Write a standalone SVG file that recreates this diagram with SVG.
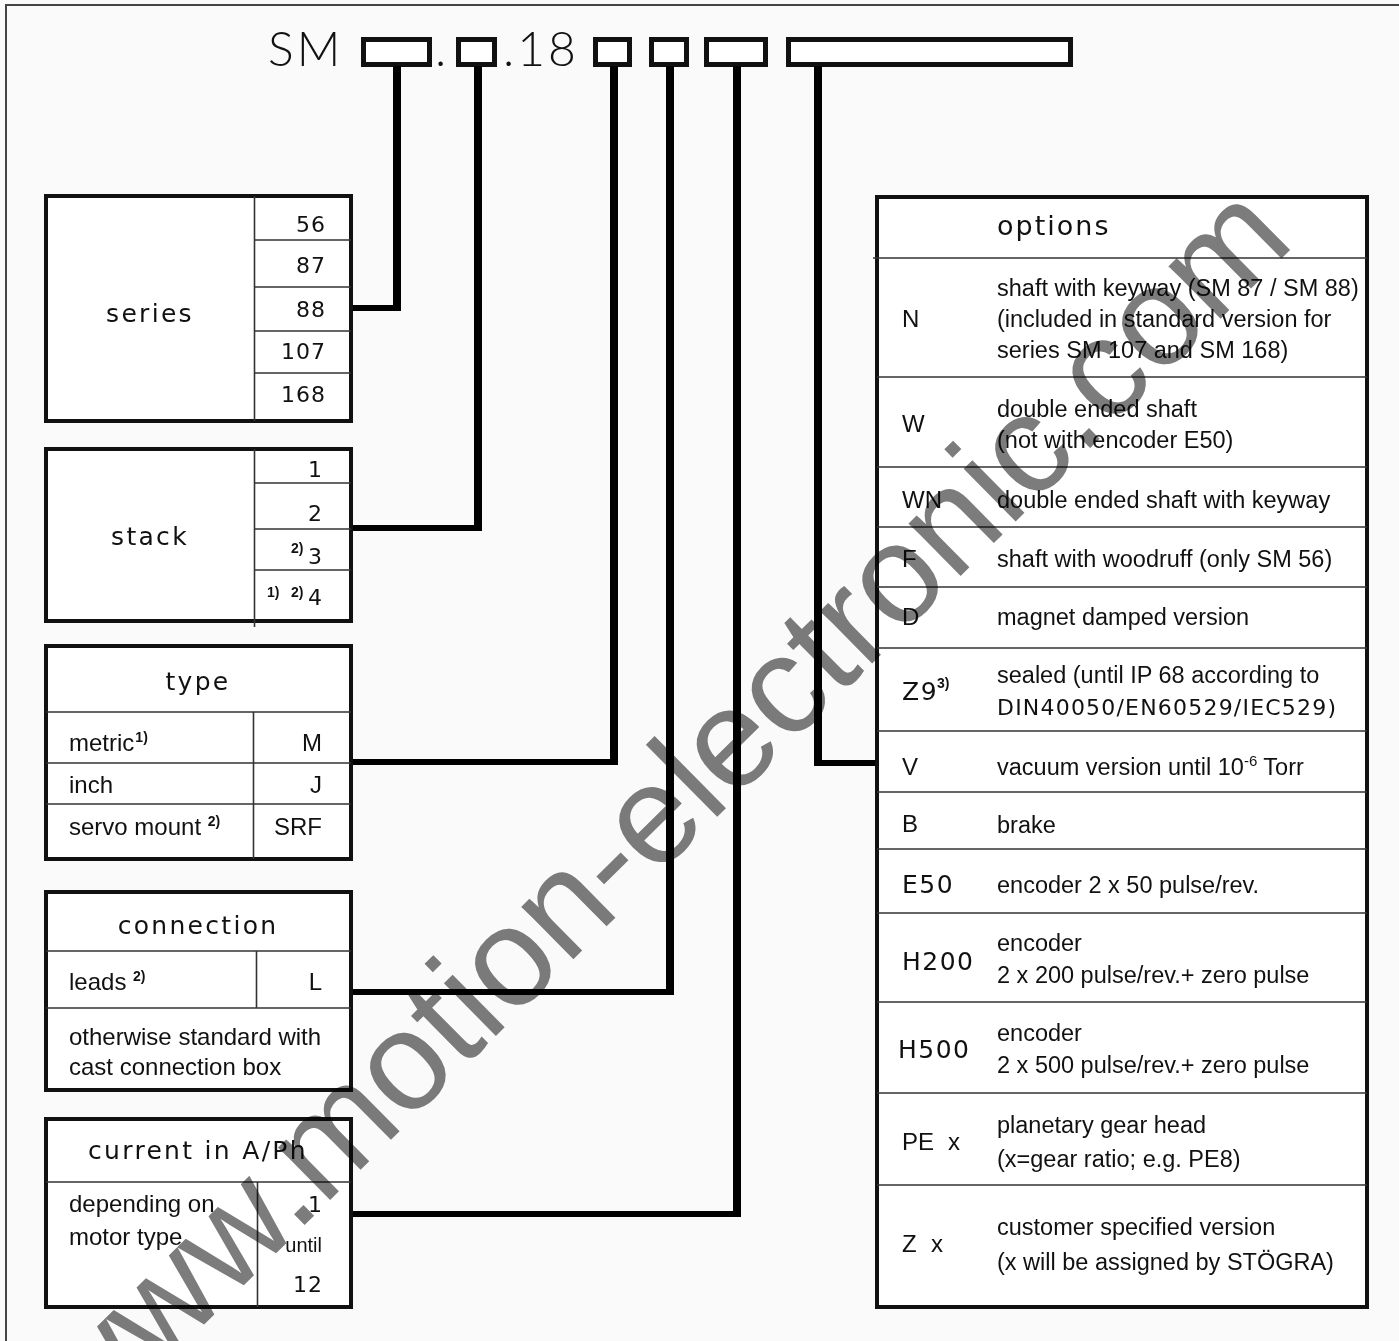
<svg xmlns="http://www.w3.org/2000/svg" width="1399" height="1341" viewBox="0 0 1399 1341">
<style>
.g{font-family:"DejaVu Sans",sans-serif;fill:#111}
.a{font-family:"Liberation Sans",Arial,sans-serif;fill:#111}
.hd{font-family:Lato,"DejaVu Sans",sans-serif;font-weight:300;font-size:48px;fill:#111;letter-spacing:3px}
.ttl{font-size:25px;letter-spacing:2.3px}
.num{font-size:22px;letter-spacing:1px}
.lt{font-size:24px}
.ot{font-size:23.5px}
.cd{font-size:24px}
.gc{font-size:25px;letter-spacing:1.5px}
.sup{font-family:"Liberation Sans",Arial,sans-serif;font-weight:bold;font-size:14px;fill:#111}
.box{fill:#fff;stroke:#111;stroke-width:4}
.hb{fill:#fff;stroke:#111;stroke-width:5}
.in{stroke:#333;stroke-width:1.6;fill:none}
.cv{stroke:#000;stroke-width:8;fill:none}
.ch{stroke:#000;stroke-width:6;fill:none}
.wm{font-family:"Liberation Sans",Arial,sans-serif;font-size:140px;fill:#7c7c7c;mix-blend-mode:multiply}
</style>
<rect x="0" y="0" width="1399" height="1341" fill="#fafafa"/>
<path d="M5 5H1399M6 5V1341" stroke="#444" stroke-width="2" fill="none"/>

<g id="header">
<text class="hd" x="268" y="66">SM</text>
<rect class="hb" x="363.5" y="39.5" width="66" height="25"/>
<text class="hd" x="435" y="66">.</text>
<rect class="hb" x="458.5" y="39.5" width="36" height="25"/>
<text class="hd" x="503" y="66">.18</text>
<rect class="hb" x="595.5" y="39.5" width="34" height="25"/>
<rect class="hb" x="651.5" y="39.5" width="35" height="25"/>
<rect class="hb" x="706.5" y="39.5" width="59" height="25"/>
<rect class="hb" x="788.5" y="39.5" width="282" height="25"/>
</g>

<g id="connectors">
<path class="cv" d="M397 66V311"/><path class="ch" d="M351 308H401"/>
<path class="cv" d="M478 66V531"/><path class="ch" d="M351 528H482"/>
<path class="cv" d="M614 66V765"/><path class="ch" d="M351 762H618"/>
<path class="cv" d="M670 66V995"/><path class="ch" d="M351 992H674"/>
<path class="cv" d="M737 66V1217"/><path class="ch" d="M351 1214H741"/>
<path class="cv" d="M818 66V766"/><path class="ch" d="M814 763H877"/>
</g>

<g id="series">
<rect class="box" x="46" y="196" width="305" height="225"/>
<path class="in" d="M254.5 196V421M254 240H351M254 287H351M254 331H351M254 373H351"/>
<text class="g ttl" x="150" y="322" text-anchor="middle">series</text>
<g class="g num" text-anchor="end">
<text x="326" y="232">56</text>
<text x="326" y="273">87</text>
<text x="326" y="317">88</text>
<text x="326" y="359">107</text>
<text x="326" y="402">168</text>
</g>
</g>

<g id="stack">
<rect class="box" x="46" y="449" width="305" height="172"/>
<path class="in" d="M254.5 449V627M254 483H351M254 529H351M254 570H351"/>
<text class="g ttl" x="150" y="545" text-anchor="middle">stack</text>
<g class="g num" text-anchor="end">
<text x="323" y="477">1</text>
<text x="323" y="521">2</text>
<text x="323" y="564">3</text>
<text x="323" y="605">4</text>
</g>
<text class="sup" x="291" y="553">2)</text>
<text class="sup" x="267" y="597">1)</text>
<text class="sup" x="291" y="597">2)</text>
</g>

<g id="type">
<rect class="box" x="46" y="646" width="305" height="213"/>
<path class="in" d="M46 712H351M46 763H351M46 804H351M253.5 712V859"/>
<text class="g ttl" x="198" y="690" text-anchor="middle">type</text>
<text class="a lt" x="69" y="751">metric<tspan class="sup" dy="-9" dx="1">1)</tspan></text>
<text class="a lt" x="322" y="751" text-anchor="end">M</text>
<text class="a lt" x="69" y="793">inch</text>
<text class="a lt" x="322" y="793" text-anchor="end">J</text>
<text class="a lt" x="69" y="835">servo mount <tspan class="sup" dy="-9">2)</tspan></text>
<text class="a lt" x="322" y="835" text-anchor="end">SRF</text>
</g>

<g id="connection">
<rect class="box" x="46" y="892" width="305" height="198"/>
<path class="in" d="M46 951H351M46 1008H351M256.5 951V1008"/>
<text class="g ttl" x="198" y="934" text-anchor="middle">connection</text>
<text class="a lt" x="69" y="990">leads <tspan class="sup" dy="-9">2)</tspan></text>
<text class="a lt" x="322" y="990" text-anchor="end">L</text>
<text class="a lt" x="69" y="1045">otherwise standard with</text>
<text class="a lt" x="69" y="1075">cast connection box</text>
</g>

<g id="current">
<rect class="box" x="46" y="1119" width="305" height="188"/>
<path class="in" d="M46 1182H351M257.5 1182V1307"/>
<text class="g ttl" x="198" y="1159" text-anchor="middle">current in A/Ph</text>
<text class="a lt" x="69" y="1212">depending on</text>
<text class="a lt" x="69" y="1245">motor type</text>
<text class="g num" x="323" y="1212" text-anchor="end">1</text>
<text class="a" x="322" y="1252" text-anchor="end" font-size="20">until</text>
<text class="g num" x="323" y="1292" text-anchor="end">12</text>
</g>

<g id="options">
<rect class="box" x="877" y="197" width="490" height="1110"/>
<path class="in" d="M873 258H1367M877 377H1367M877 467H1367M877 527H1367M877 587H1367M877 648H1367M877 731H1367M877 792H1367M877 849H1367M877 913H1367M877 1002H1367M877 1093H1367M877 1185H1367"/>
<text class="g" x="997" y="235" font-size="27" letter-spacing="2">options</text>
<text class="a cd" x="902" y="327">N</text>
<text class="a ot" x="997" y="296">shaft with keyway (SM 87 / SM 88)</text>
<text class="a ot" x="997" y="327">(included in standard version for</text>
<text class="a ot" x="997" y="358">series SM 107 and SM 168)</text>
<text class="a cd" x="902" y="432">W</text>
<text class="a ot" x="997" y="417">double ended shaft</text>
<text class="a ot" x="997" y="448">(not with encoder E50)</text>
<text class="a cd" x="902" y="508">WN</text>
<text class="a ot" x="997" y="508">double ended shaft with keyway</text>
<text class="a cd" x="902" y="567">F</text>
<text class="a ot" x="997" y="567">shaft with woodruff (only SM 56)</text>
<text class="a cd" x="902" y="625">D</text>
<text class="a ot" x="997" y="625">magnet damped version</text>
<text class="g gc" x="902" y="700">Z9</text>
<text class="sup" x="937" y="688">3)</text>
<text class="a ot" x="997" y="683">sealed (until IP 68 according to</text>
<text class="g" x="997" y="715" font-size="22" letter-spacing="1.2">DIN40050/EN60529/IEC529)</text>
<text class="a cd" x="902" y="775">V</text>
<text class="a ot" x="997" y="775">vacuum version until 10<tspan font-size="15" dy="-9">-6</tspan><tspan dy="9"> Torr</tspan></text>
<text class="a cd" x="902" y="832">B</text>
<text class="a ot" x="997" y="833">brake</text>
<text class="g gc" x="902" y="893">E50</text>
<text class="a ot" x="997" y="893">encoder 2 x 50 pulse/rev.</text>
<text class="g gc" x="902" y="970">H200</text>
<text class="a ot" x="997" y="951">encoder</text>
<text class="a ot" x="997" y="983">2 x 200 pulse/rev.+ zero pulse</text>
<text class="g gc" x="898" y="1058">H500</text>
<text class="a ot" x="997" y="1041">encoder</text>
<text class="a ot" x="997" y="1073">2 x 500 pulse/rev.+ zero pulse</text>
<text class="a cd" x="902" y="1150">PE</text>
<text class="a cd" x="948" y="1150">x</text>
<text class="a ot" x="997" y="1133">planetary gear head</text>
<text class="a ot" x="997" y="1167">(x=gear ratio; e.g. PE8)</text>
<text class="a cd" x="902" y="1252">Z</text>
<text class="a cd" x="931" y="1252">x</text>
<text class="a ot" x="997" y="1235">customer specified version</text>
<text class="a ot" x="997" y="1270">(x will be assigned by STÖGRA)</text>
</g>

<text class="wm" transform="translate(85.5,1442) rotate(-44.7)">www.motion-electronic.com</text>
</svg>
